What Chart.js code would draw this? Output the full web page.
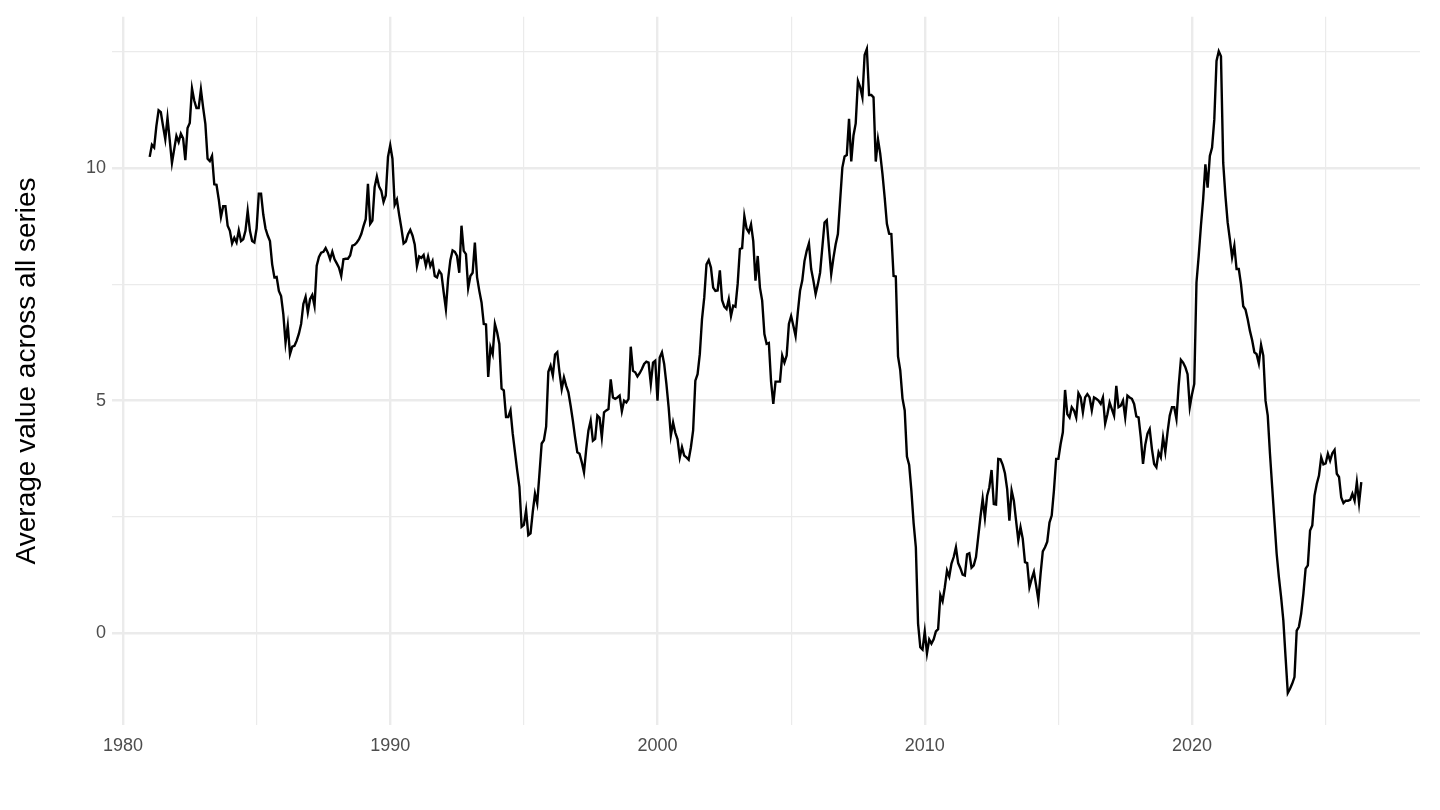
<!DOCTYPE html>
<html>
<head>
<meta charset="utf-8">
<script src="https://cdn.jsdelivr.net/npm/chart.js@4.4.1/dist/chart.umd.min.js"></script>
<style>
  html, body { margin: 0; padding: 0; background: #ffffff; }
  #wrap { width: 1440px; height: 810px; }
</style>
</head>
<body>
<div id="wrap"><canvas id="lineChart"></canvas></div>
<script>
// monthly series, first value is January 1981
const firstYear = 1981;
const seriesValues = [
  10.24, 10.50, 10.44, 10.90, 11.24, 11.20, 10.90, 10.62, 11.08, 10.60, 10.11, 10.40,
  10.69, 10.56, 10.74, 10.64, 10.17, 10.86, 10.97, 11.71, 11.45, 11.29, 11.29, 11.69,
  11.30, 10.95, 10.20, 10.15, 10.26, 9.65, 9.64, 9.33, 8.95, 9.18, 9.18, 8.76,
  8.65, 8.38, 8.50, 8.40, 8.66, 8.43, 8.47, 8.65, 9.08, 8.65, 8.43, 8.40,
  8.70, 9.45, 9.45, 9.00, 8.70, 8.55, 8.43, 7.93, 7.65, 7.66, 7.36, 7.25,
  6.86, 6.25, 6.61, 6.00, 6.16, 6.18, 6.29, 6.44, 6.65, 7.08, 7.23, 6.90,
  7.18, 7.27, 7.04, 7.90, 8.09, 8.18, 8.20, 8.28, 8.18, 8.04, 8.20, 8.04,
  7.95, 7.86, 7.68, 8.04, 8.05, 8.05, 8.12, 8.33, 8.35, 8.40, 8.47, 8.58,
  8.75, 8.90, 9.66, 8.80, 8.87, 9.59, 9.82, 9.60, 9.51, 9.27, 9.41, 10.24,
  10.49, 10.20, 9.21, 9.32, 9.00, 8.71, 8.38, 8.42, 8.58, 8.67, 8.55, 8.36,
  7.89, 8.10, 8.07, 8.13, 7.90, 8.10, 7.89, 8.00, 7.68, 7.65, 7.79, 7.72,
  7.33, 6.97, 7.62, 8.02, 8.23, 8.20, 8.11, 7.75, 8.76, 8.22, 8.15, 7.42,
  7.68, 7.75, 8.40, 7.65, 7.36, 7.11, 6.65, 6.64, 5.51, 6.15, 6.00, 6.65,
  6.47, 6.22, 5.26, 5.22, 4.65, 4.65, 4.79, 4.29, 3.90, 3.50, 3.15, 2.29,
  2.33, 2.65, 2.11, 2.15, 2.61, 3.00, 2.79, 3.43, 4.08, 4.15, 4.44, 5.62,
  5.75, 5.54, 5.99, 6.04, 5.61, 5.25, 5.50, 5.32, 5.18, 4.89, 4.57, 4.21,
  3.89, 3.86, 3.68, 3.46, 3.96, 4.36, 4.57, 4.14, 4.18, 4.68, 4.63, 4.21,
  4.75, 4.79, 4.82, 5.46, 5.07, 5.04, 5.07, 5.11, 4.77, 5.00, 4.96, 5.04,
  6.16, 5.64, 5.61, 5.52, 5.59, 5.68, 5.79, 5.84, 5.82, 5.36, 5.82, 5.86,
  5.00, 5.93, 6.04, 5.79, 5.36, 4.86, 4.25, 4.53, 4.31, 4.17, 3.78, 4.00,
  3.82, 3.78, 3.73, 4.00, 4.36, 5.43, 5.57, 6.00, 6.76, 7.22, 7.93, 8.02,
  7.86, 7.43, 7.36, 7.37, 7.80, 7.16, 7.02, 6.97, 7.18, 6.82, 7.04, 7.02,
  7.51, 8.26, 8.28, 8.97, 8.70, 8.62, 8.79, 8.43, 7.58, 8.11, 7.43, 7.15,
  6.43, 6.22, 6.24, 5.41, 4.93, 5.41, 5.41, 5.41, 5.97, 5.82, 5.97, 6.65,
  6.82, 6.61, 6.39, 6.90, 7.36, 7.58, 8.00, 8.22, 8.38, 7.83, 7.58, 7.29,
  7.50, 7.75, 8.29, 8.83, 8.88, 8.29, 7.72, 8.07, 8.36, 8.58, 9.30, 10.01,
  10.25, 10.28, 11.06, 10.14, 10.70, 10.96, 11.87, 11.74, 11.52, 12.43, 12.56, 11.57,
  11.57, 11.52, 10.14, 10.62, 10.31, 9.88, 9.37, 8.80, 8.59, 8.58, 7.68, 7.67,
  5.95, 5.65, 5.05, 4.79, 3.80, 3.62, 3.06, 2.37, 1.85, 0.21, -0.30, -0.35,
  0.04, -0.43, -0.13, -0.22, -0.13, 0.04, 0.09, 0.82, 0.69, 0.99, 1.35, 1.22,
  1.50, 1.64, 1.85, 1.51, 1.40, 1.26, 1.24, 1.70, 1.72, 1.41, 1.46, 1.64,
  2.07, 2.50, 2.89, 2.48, 2.96, 3.14, 3.51, 2.78, 2.77, 3.75, 3.74, 3.62,
  3.44, 3.10, 2.42, 3.07, 2.85, 2.42, 2.00, 2.28, 2.03, 1.53, 1.51, 0.99,
  1.17, 1.32, 1.03, 0.72, 1.28, 1.76, 1.85, 1.97, 2.38, 2.53, 3.07, 3.75,
  3.75, 4.07, 4.32, 5.23, 4.71, 4.64, 4.86, 4.79, 4.64, 5.16, 5.07, 4.75,
  5.07, 5.14, 5.07, 4.79, 5.07, 5.04, 5.00, 4.93, 5.07, 4.51, 4.71, 4.96,
  4.82, 4.68, 5.32, 4.86, 4.89, 5.00, 4.64, 5.11, 5.07, 5.04, 4.93, 4.66,
  4.64, 4.21, 3.64, 4.05, 4.29, 4.39, 3.96, 3.64, 3.57, 3.89, 3.78, 4.21,
  3.90, 4.32, 4.68, 4.86, 4.86, 4.61, 5.32, 5.88, 5.82, 5.72, 5.57, 4.86,
  5.14, 5.36, 7.54, 8.11, 8.76, 9.33, 10.08, 9.58, 10.26, 10.44, 11.04, 12.30,
  12.51, 12.40, 10.11, 9.40, 8.83, 8.47, 8.08, 8.33, 7.83, 7.83, 7.50, 7.03,
  6.96, 6.75, 6.50, 6.30, 6.04, 6.00, 5.80, 6.20, 5.97, 5.00, 4.68, 3.86,
  3.14, 2.42, 1.71, 1.21, 0.78, 0.28, -0.51, -1.28, -1.19, -1.08, -0.94, 0.06,
  0.14, 0.42, 0.85, 1.39, 1.46, 2.21, 2.32, 2.96, 3.21, 3.39, 3.78, 3.63,
  3.65, 3.86, 3.71, 3.87, 3.94, 3.43, 3.36, 2.92, 2.80, 2.85, 2.85, 2.87,
  3.00, 2.85, 3.25, 2.80, 3.25
];

const xMajorTicks = [1980, 1990, 2000, 2010, 2020];
const xMinorTicks = [1985, 1995, 2005, 2015, 2025];
const yMajorTicks = [0, 5, 10];
const yMinorTicks = [2.5, 7.5, 12.5];
const yTitle = 'Average value across all series';

const points = seriesValues.map((v, i) => ({ x: firstYear + i / 12, y: v }));

const gridColor = '#EBEBEB';
const textGrey = '#4D4D4D';

Chart.defaults.font.family = '"Liberation Sans", Arial, Helvetica, sans-serif';

function tickList(major, minor) {
    return major.concat(minor).sort((a, b) => a - b).map(v => ({ value: v }));
}

const ctx = document.getElementById('lineChart').getContext('2d');
new Chart(ctx, {
    type: 'line',
    data: {
        datasets: [{
            data: points,
            borderColor: '#000000',
            borderWidth: 2.4,
            pointRadius: 0,
            tension: 0,
            fill: false
        }]
    },
    options: {
        responsive: true,
        maintainAspectRatio: false,
        animation: false,
        layout: { padding: { top: 15, right: 20, left: 0, bottom: 0 } },
        plugins: {
            legend: { display: false },
            tooltip: { enabled: false }
        },
        scales: {
            x: {
                type: 'linear',
                min: 1979.59,
                max: 2028.53,
                afterBuildTicks: s => { s.ticks = tickList(xMajorTicks, xMinorTicks); },
                afterFit: s => { s.height = 85; },
                border: { display: false },
                grid: {
                    drawTicks: false,
                    color: gridColor,
                    lineWidth: c => (c.tick && xMajorTicks.includes(c.tick.value)) ? 2.4 : 1.2
                },
                ticks: {
                    autoSkip: false,
                    maxRotation: 0,
                    padding: 10,
                    color: textGrey,
                    font: { size: 18 },
                    callback: v => xMajorTicks.includes(v) ? String(v) : ''
                }
            },
            y: {
                min: -1.97,
                max: 13.25,
                afterBuildTicks: s => { s.ticks = tickList(yMajorTicks, yMinorTicks); },
                afterFit: s => { s.width = 112; },
                border: { display: false },
                grid: {
                    drawTicks: false,
                    color: gridColor,
                    lineWidth: c => (c.tick && yMajorTicks.includes(c.tick.value)) ? 2.4 : 1.2
                },
                ticks: {
                    autoSkip: false,
                    padding: 6,
                    color: textGrey,
                    font: { size: 18 },
                    callback: v => yMajorTicks.includes(v) ? String(v) : ''
                },
                title: {
                    display: true,
                    text: yTitle,
                    color: '#000000',
                    font: { size: 28 },
                    padding: { top: 10, bottom: 0 }
                }
            }
        }
    }
});
</script>
</body>
</html>
